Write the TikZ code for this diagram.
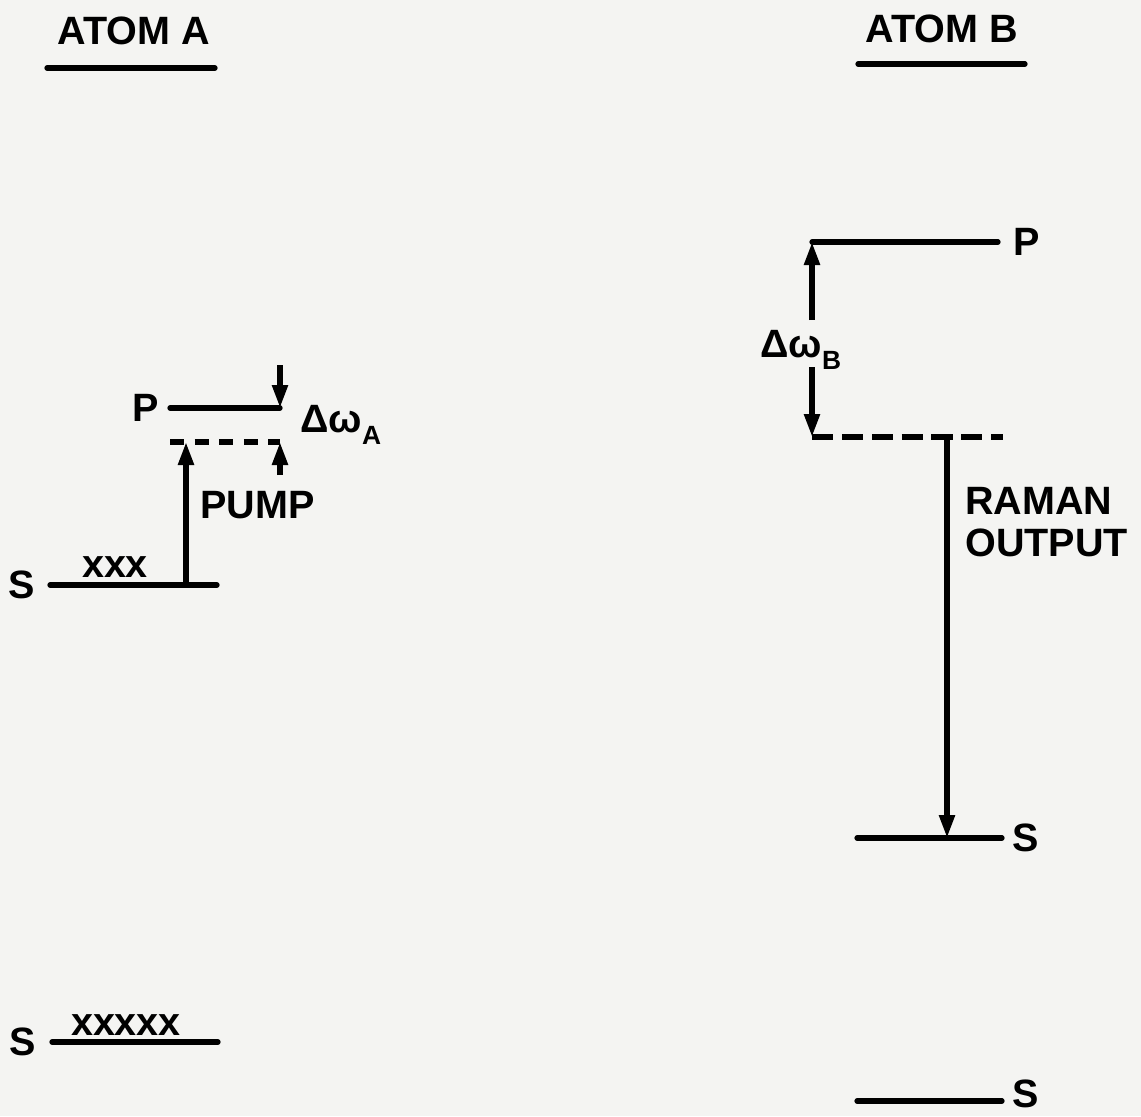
\documentclass[tikz,border=0pt]{standalone}
\usepackage{fontspec}
\setmainfont{Liberation Sans}
\usetikzlibrary{arrows.meta, positioning}
\definecolor{papier}{RGB}{244,244,242}
\newcommand{\dsub}[1]{\raisebox{-7pt}{\fontsize{15}{16}\selectfont #1}}

\begin{document}
\begin{tikzpicture}[
    x=0.02cm, y=-0.02cm,
    level/.style={line width=3pt, line cap=round},
    virtA/.style={line width=3pt, dash pattern=on 8pt off 6pt},
    virtB/.style={line width=3pt, dash pattern=on 12pt off 5pt},
    arr/.style={-{Triangle[length=4.6mm, width=3mm]}, line width=3pt},
    lbl/.style={inner sep=0pt, font=\fontsize{22.5}{24}\selectfont\bfseries}
  ]
  \useasboundingbox (0,0) rectangle (1141,1116);
  \fill[papier] (0,0) rectangle (1141,1116);

  % headings
  \node[lbl] (atomA) at (134,31) {ATOM A};
  \node[lbl] (atomB) at (942,29) {ATOM B};
  \coordinate (ulA1) at (47,68);   \coordinate (ulA2) at (215,68);
  \coordinate (ulB1) at (858,64);  \coordinate (ulB2) at (1025,64);
  \draw[level] (ulA1) -- (ulA2);
  \draw[level] (ulB1) -- (ulB2);

  % atom A
  \coordinate (pA1) at (170,408);  \coordinate (pA2) at (280,408);
  \coordinate (vA1) at (170,442);  \coordinate (vA2) at (280,442);
  \coordinate (sA1) at (50,585);   \coordinate (sA2) at (217,585);
  \coordinate (gA1) at (52,1042);  \coordinate (gA2) at (218,1042);
  \coordinate (pumpfoot) at (186,585);
  \coordinate (pumptop)  at (186,442);
  \coordinate (dwAtop) at (280,365);
  \coordinate (dwAbot) at (280,475);

  \draw[level] (pA1) -- (pA2);
  \draw[virtA] (vA1) -- (vA2);
  \draw[level] (sA1) -- (sA2);
  \draw[level] (gA1) -- (gA2);

  \node[lbl, left=0.22cm of pA1] (labpA) {P};
  \node[lbl, left=0.3cm of sA1]  (labsA) {S};
  \node[lbl, left=0.32cm of gA1] (labgA) {S};
  \node[lbl, anchor=base] (xsA) at (115,577)  {xxx};
  \node[lbl, anchor=base] (xgA) at (126,1035) {xxxxx};
  \node[lbl, anchor=west] (pump) at (200,505) {PUMP};
  \node[lbl, anchor=base west] (dwA) at (300,432) {Δω\dsub{A}};

  \draw[arr] (pumpfoot) -- (pumptop);
  \draw[arr] (dwAtop) -- (pA2);
  \draw[arr] (dwAbot) -- (vA2);

  % atom B
  \coordinate (pB1) at (812,242);  \coordinate (pB2) at (998,242);
  \coordinate (vB1) at (812,437);  \coordinate (vB2) at (1003,437);
  \coordinate (sB1) at (857,838);  \coordinate (sB2) at (1002,838);
  \coordinate (gB1) at (857,1101); \coordinate (gB2) at (1002,1101);
  \coordinate (dwBtop) at (812,320);
  \coordinate (dwBbot) at (812,367);
  \coordinate (ramtop) at (947,437);
  \coordinate (rambot) at (947,838);

  \draw[level] (pB1) -- (pB2);
  \draw[virtB] (vB1) -- (vB2);
  \draw[level] (sB1) -- (sB2);
  \draw[level] (gB1) -- (gB2);

  \node[lbl, right=0.3cm of pB2] (labpB) {P};
  \node[lbl, right=0.2cm of sB2] (labsB) {S};
  \node[lbl, right=0.2cm of gB2, yshift=4pt] (labgB) {S};
  \node[lbl, anchor=base west] (dwB) at (760,357) {Δω\dsub{B}};
  \node[lbl, anchor=north west, align=left] (raman) at (965,487) {RAMAN\\OUTPUT};

  \draw[arr] (dwBtop) -- (pB1);
  \draw[arr] (dwBbot) -- (vB1);
  \draw[arr] (ramtop) -- (rambot);
\end{tikzpicture}
\end{document}
